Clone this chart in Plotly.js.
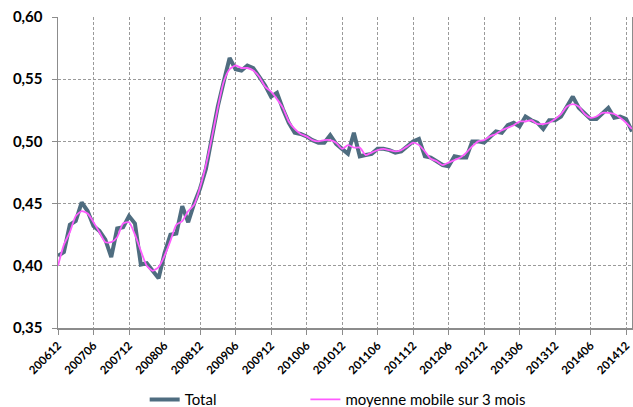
<!DOCTYPE html>
<html>
<head>
<meta charset="utf-8">
<script src="https://cdn.plot.ly/plotly-3.0.1.min.js"></script>
<style>html,body{margin:0;padding:0;background:#fff;}#chart{width:633px;height:407px;}</style>
</head>
<body>
<div id="chart"></div>
<script>
const months = [
"200612","200701","200702","200703","200704","200705","200706","200707","200708","200709","200710","200711",
"200712","200801","200802","200803","200804","200805","200806","200807","200808","200809","200810","200811",
"200812","200901","200902","200903","200904","200905","200906","200907","200908","200909","200910","200911",
"200912","201001","201002","201003","201004","201005","201006","201007","201008","201009","201010","201011",
"201012","201101","201102","201103","201104","201105","201106","201107","201108","201109","201110","201111",
"201112","201201","201202","201203","201204","201205","201206","201207","201208","201209","201210","201211",
"201212","201301","201302","201303","201304","201305","201306","201307","201308","201309","201310","201311",
"201312","201401","201402","201403","201404","201405","201406","201407","201408","201409","201410","201411",
"201412","201501"
];
const total = [
0.408,0.411,0.433,0.436,0.451,0.444,0.432,0.428,0.421,0.407,0.430,0.431,
0.440,0.434,0.401,0.402,0.396,0.390,0.410,0.425,0.426,0.448,0.435,0.450,
0.462,0.478,0.503,0.528,0.548,0.567,0.558,0.557,0.561,0.559,0.552,0.545,
0.536,0.539,0.526,0.515,0.507,0.506,0.504,0.501,0.499,0.499,0.505,0.498,
0.494,0.490,0.507,0.488,0.489,0.490,0.494,0.494,0.493,0.491,0.492,0.496,
0.500,0.502,0.488,0.487,0.484,0.481,0.480,0.488,0.487,0.487,0.500,0.500,
0.499,0.504,0.508,0.507,0.513,0.515,0.512,0.520,0.517,0.515,0.510,0.517,
0.517,0.520,0.528,0.536,0.527,0.522,0.518,0.518,0.523,0.527,0.519,0.520,
0.518,0.508
];
const movingAvg = [
0.400,0.417,0.427,0.440,0.444,0.442,0.435,0.427,0.419,0.419,0.423,0.434,
0.435,0.425,0.412,0.400,0.396,0.399,0.408,0.420,0.433,0.436,0.444,0.449,
0.463,0.481,0.503,0.527,0.548,0.558,0.561,0.559,0.559,0.557,0.552,0.544,
0.540,0.534,0.527,0.516,0.510,0.506,0.504,0.501,0.500,0.501,0.501,0.499,
0.494,0.497,0.495,0.495,0.489,0.491,0.493,0.494,0.493,0.492,0.493,0.496,
0.499,0.497,0.492,0.486,0.484,0.481,0.483,0.485,0.487,0.491,0.496,0.500,
0.501,0.504,0.506,0.509,0.511,0.513,0.516,0.516,0.517,0.514,0.514,0.515,
0.518,0.522,0.528,0.530,0.528,0.522,0.519,0.520,0.523,0.523,0.522,0.519,
0.515,0.510
];
const tickLabels = ["200612","200706","200712","200806","200812","200906","200912","201006","201012",
"201106","201112","201206","201212","201306","201312","201406","201412"];
const yTicks = [0.35,0.40,0.45,0.50,0.55,0.60];

const FONT = 'Lato, "Open Sans", sans-serif';
const traces = [
  {x: months, y: total, type:'scatter', mode:'lines', name:'Total', legend:'legend',
   line:{color:'#4F6D80', width:4}},
  {x: months, y: movingAvg, type:'scatter', mode:'lines', name:'moyenne mobile sur 3 mois', legend:'legend2',
   line:{color:'#FF5CFF', width:1.8, shape:'spline', smoothing:0.6}}
];
const legendBase = {orientation:'h', yref:'container', yanchor:'middle', y:0.018, xanchor:'left',
  font:{family:FONT, size:15, color:'#000'}, bgcolor:'rgba(0,0,0,0)', itemwidth:30};
const layout = {
  width:633, height:407,
  margin:{l:58, r:1, t:17, b:79, autoexpand:false},
  paper_bgcolor:'#fff', plot_bgcolor:'#fff',
  separators:',.',
  showlegend:true,
  legend:Object.assign({}, legendBase, {x:0.151}),
  legend2:Object.assign({}, legendBase, {x:0.431}),
  xaxis:{type:'category', range:[0, months.length-1], tickmode:'array', tickvals:tickLabels, ticktext:tickLabels,
         tickangle:-45, automargin:false,
         tickfont:{family:FONT, size:11.5, color:'#000', weight:'bold'},
         showgrid:true, gridcolor:'#9a9a9a', griddash:'3px,2px', gridwidth:1,
         showline:true, linecolor:'#8c8c8c', linewidth:1.5, ticks:'outside', ticklen:5, tickcolor:'#8c8c8c',
         zeroline:false, fixedrange:true},
  yaxis:{range:[0.35,0.60], tickmode:'array', tickvals:yTicks, tickformat:'.2f', automargin:false,
         tickfont:{family:FONT, size:15, color:'#000', weight:'bold'}, ticklabelstandoff:6,
         showgrid:true, gridcolor:'#9a9a9a', griddash:'3px,2px', gridwidth:1,
         showline:true, linecolor:'#8c8c8c', linewidth:1.5, mirror:true, ticks:'outside', ticklen:5, tickcolor:'#8c8c8c',
         zeroline:false, fixedrange:true}
};
Plotly.newPlot('chart', traces, layout, {displayModeBar:false, staticPlot:true});
</script>
</body>
</html>
